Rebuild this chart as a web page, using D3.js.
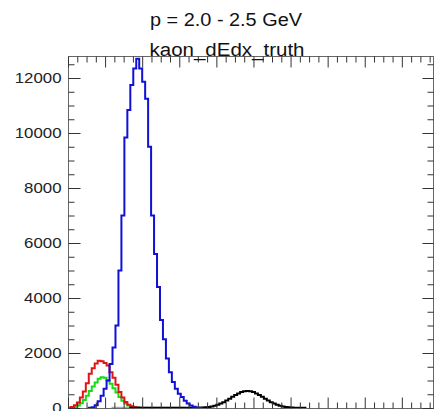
<!DOCTYPE html>
<html>
<head>
<meta charset="utf-8">
<script src="https://cdn.jsdelivr.net/npm/d3@7"></script>
<style>
  body { margin: 0; background: #fff; }
  svg { display: block; font-family: "Liberation Sans", Arial, sans-serif; }
</style>
</head>
<body>
<div id="chart"></div>
<script>
// histogram binning (dE/dx units)
const binWidth = 0.4;
const xRange = [0, 49.2];
const yRange = [0, 12800];

const yMajorTicks = [0, 2000, 4000, 6000, 8000, 10000, 12000];
const xMajorTicks = [0, 5, 10, 15, 20, 25, 30, 35, 40, 45];

// lower edge of the first listed bin, then the bin contents
const blueFrom = 2.8;
const blueCounts = [10, 30, 100, 250, 450, 700, 1000, 1600, 2200, 3000, 5000, 7000,
  9837, 10839, 11743, 12343, 12700, 12343, 11862, 11248, 9500, 7000, 5600, 4400,
  3200, 2500, 1800, 1300, 950, 700, 520, 400, 260, 160, 90, 50, 20, 8];

const redFrom = 0;
const redCounts = [10, 40, 100, 200, 380, 600, 900, 1250, 1450, 1620, 1720, 1700,
  1640, 1550, 1300, 1100, 850, 580, 380, 220, 120, 60, 25, 10];

const greenFrom = 0;
const greenCounts = [5, 15, 40, 90, 170, 290, 450, 620, 780, 930, 1060, 1120,
  1100, 1000, 880, 720, 560, 400, 260, 160, 90, 45, 20, 8];

const blackFrom = 8.4;
const blackCounts = [8, 8, 8, 8, 8, 8, 8, 8, 8, 8, 8, 8, 8, 8, 8, 8, 8, 8, 8, 8, 8, 8, 8, 8,
  15, 24, 37, 57, 83, 118, 161, 213, 274, 340, 407, 472, 530, 578, 608, 618, 612, 585,
  530, 472, 407, 340, 274, 213, 161, 118, 83, 57, 37, 24, 15, 8, 8, 8, 8];

const grayFrom = 6.0;
const grayCounts = [6, 8, 10, 10, 12, 12, 12, 14, 14, 14, 12, 12, 12, 10, 10, 10,
  10, 8, 8, 8, 6, 6, 6, 6];

const W = 434, H = 411;
const plotL = 68, plotR = 433, plotT = 56, plotB = 408;

const svg = d3.select("#chart").append("svg")
  .attr("width", W).attr("height", H);

const x = d3.scaleLinear().domain(xRange).range([plotL, plotR]);
const y = d3.scaleLinear().domain(yRange).range([plotB, plotT]);

svg.append("clipPath").attr("id", "plot")
  .append("rect").attr("x", plotL).attr("y", plotT)
  .attr("width", plotR - plotL).attr("height", plotB - plotT);

// step outline of one histogram
function steps(from, counts) {
  const pts = [[from, 0]];
  counts.forEach((c, i) => pts.push([from + i * binWidth, c]));
  pts.push([from + counts.length * binWidth, 0]);
  return pts;
}
const line = d3.line()
  .x(d => x(d[0])).y(d => y(d[1]))
  .curve(d3.curveStepAfter);

const series = [
  { from: grayFrom, counts: grayCounts, color: "#a9a9a9" },
  { from: greenFrom, counts: greenCounts, color: "#12dd12" },
  { from: redFrom, counts: redCounts, color: "#e01414" },
  { from: blackFrom, counts: blackCounts, color: "#000000" },
  { from: blueFrom, counts: blueCounts, color: "#1010d8" }
];

const hists = svg.append("g").attr("clip-path", "url(#plot)");
series.forEach(s => {
  hists.append("path")
    .datum(steps(s.from, s.counts))
    .attr("fill", "none")
    .attr("stroke", s.color)
    .attr("stroke-width", 2)
    .attr("d", line);
});

// frame
svg.append("rect")
  .attr("x", plotL + 0.5).attr("y", plotT + 0.5)
  .attr("width", plotR - plotL).attr("height", plotB - plotT)
  .attr("fill", "none").attr("stroke", "#666").attr("stroke-width", 1);

const yMinor = d3.range(0, 12801, 500).filter(v => v % 2000 !== 0);
const xMinor = d3.range(0, 49.2, 1.25).filter(v => v % 5 !== 0);

function styleAxis(g) {
  g.select(".domain").remove();
  g.selectAll("line").attr("stroke", "#333");
}

// left axis with labels
const yl = svg.append("g").attr("transform", `translate(${plotL + 0.5},0)`)
  .call(d3.axisLeft(y).tickValues(yMajorTicks).tickFormat(d3.format("d"))
    .tickSizeInner(-12).tickSizeOuter(0).tickPadding(7))
  .call(styleAxis);
yl.selectAll("text")
  .attr("font-size", 14.5).attr("fill", "#222")
  .attr("font-family", "'Liberation Sans', Arial, sans-serif")
  .attr("x", -7 / 1.16).attr("transform", "scale(1.16,1)");
svg.append("g").attr("transform", `translate(${plotL + 0.5},0)`)
  .call(d3.axisLeft(y).tickValues(yMinor).tickSize(-6).tickFormat(""))
  .call(styleAxis);

// right axis, ticks only
svg.append("g").attr("transform", `translate(${plotR + 0.5},0)`)
  .call(d3.axisRight(y).tickValues(yMajorTicks).tickSize(-11).tickFormat(""))
  .call(styleAxis);
svg.append("g").attr("transform", `translate(${plotR + 0.5},0)`)
  .call(d3.axisRight(y).tickValues(yMinor).tickSize(-6).tickFormat(""))
  .call(styleAxis);

// top and bottom x ticks
svg.append("g").attr("transform", `translate(0,${plotT + 0.5})`)
  .call(d3.axisTop(x).tickValues(xMajorTicks).tickSize(-11).tickFormat(""))
  .call(styleAxis);
svg.append("g").attr("transform", `translate(0,${plotT + 0.5})`)
  .call(d3.axisTop(x).tickValues(xMinor).tickSize(-6).tickFormat(""))
  .call(styleAxis);
svg.append("g").attr("transform", `translate(0,${plotB + 0.5})`)
  .call(d3.axisBottom(x).tickValues(xMajorTicks).tickSize(-11).tickFormat(""))
  .call(styleAxis);
svg.append("g").attr("transform", `translate(0,${plotB + 0.5})`)
  .call(d3.axisBottom(x).tickValues(xMinor).tickSize(-6).tickFormat(""))
  .call(styleAxis);

// titles
svg.append("text")
  .attr("x", 226).attr("y", 26)
  .attr("text-anchor", "middle").attr("font-size", 18).attr("fill", "#111")
  .attr("textLength", 152).attr("lengthAdjust", "spacingAndGlyphs")
  .text("p = 2.0 - 2.5 GeV");
svg.append("text")
  .attr("x", 227).attr("y", 55.5)
  .attr("text-anchor", "middle").attr("font-size", 18).attr("fill", "#111")
  .attr("textLength", 155).attr("lengthAdjust", "spacingAndGlyphs")
  .text("kaon_dEdx_truth");
</script>
</body>
</html>
